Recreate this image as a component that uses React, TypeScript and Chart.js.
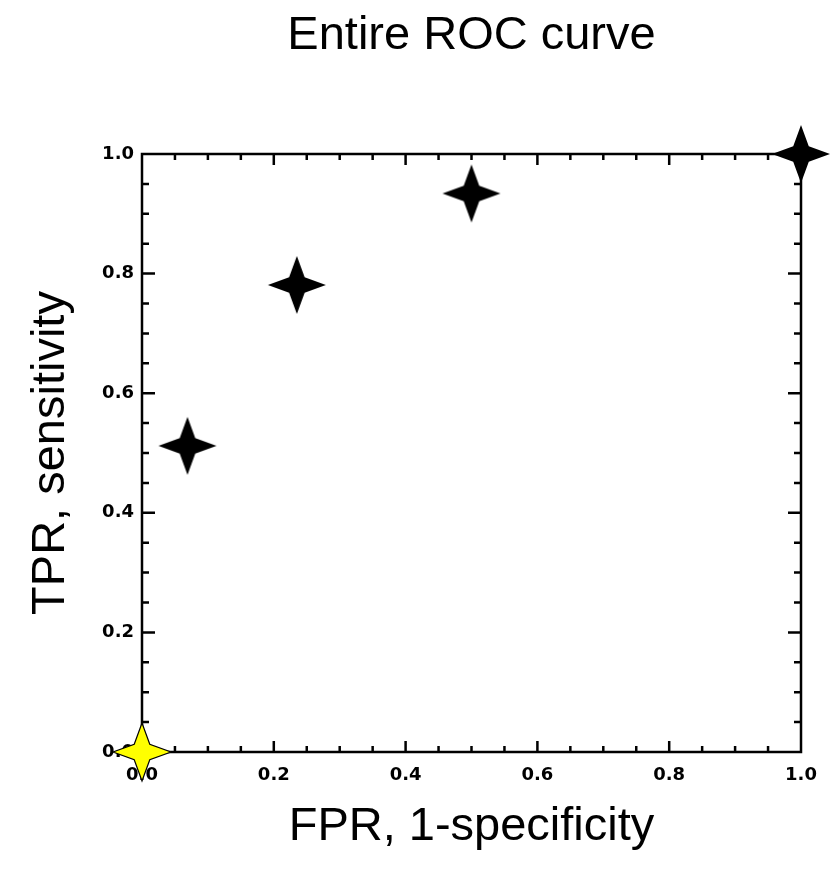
import React, { useEffect, useRef } from "react";
import { Chart, registerables } from "chart.js";

Chart.register(...registerables);

const chartTitle = "Entire ROC curve";
const xAxisTitle = "FPR, 1-specificity";
const yAxisTitle = "TPR, sensitivity";

// ROC points (black stars)
const fpr = [0.069, 0.235, 0.5, 1.0];
const tpr = [0.512, 0.781, 0.934, 1.0];
// Origin point (yellow star)
const originFpr = [0.0];
const originTpr = [0.0];

const axisMin = 0;
const axisMax = 1;
const majorStep = 0.2;
const minorPerMajor = 4;

const CANVAS_W = 823;
const CANVAS_H = 859;

function makeStar(fill: string, stroke: string | null, R: number, r: number) {
  const size = Math.ceil(2 * R + 4);
  const c = document.createElement("canvas");
  c.width = size;
  c.height = size;
  const ctx = c.getContext("2d")!;
  const cx = size / 2;
  const cy = size / 2;
  ctx.beginPath();
  for (let i = 0; i < 8; i++) {
    const ang = -Math.PI / 2 + (i * Math.PI) / 4;
    const rad = i % 2 === 0 ? R : r;
    const px = cx + rad * Math.cos(ang);
    const py = cy + rad * Math.sin(ang);
    if (i === 0) ctx.moveTo(px, py);
    else ctx.lineTo(px, py);
  }
  ctx.closePath();
  ctx.fillStyle = fill;
  ctx.fill();
  if (stroke) {
    ctx.strokeStyle = stroke;
    ctx.lineWidth = 1.2;
    ctx.stroke();
  }
  return c;
}

const framePlugin = {
  id: "idlFrame",
  beforeDatasetsDraw(chart: any) {
    const { ctx, chartArea: a, scales } = chart;
    const xs = scales.x;
    const ys = scales.y;
    ctx.save();
    ctx.strokeStyle = "#000";
    ctx.lineWidth = 2.5;
    ctx.lineCap = "butt";
    const nMinor = Math.round((axisMax - axisMin) / majorStep) * minorPerMajor;
    for (let i = 1; i < nMinor; i++) {
      const v = axisMin + (i * (axisMax - axisMin)) / nMinor;
      const major = i % minorPerMajor === 0;
      const hLen = major ? 11 : 6;
      const vLen = major ? 13 : 7;
      const px = xs.getPixelForValue(v);
      const py = ys.getPixelForValue(v);
      ctx.beginPath();
      ctx.moveTo(px, a.bottom);
      ctx.lineTo(px, a.bottom - hLen);
      ctx.moveTo(px, a.top);
      ctx.lineTo(px, a.top + hLen);
      ctx.moveTo(a.left, py);
      ctx.lineTo(a.left + vLen, py);
      ctx.moveTo(a.right, py);
      ctx.lineTo(a.right - vLen, py);
      ctx.stroke();
    }
    ctx.strokeRect(a.left, a.top, a.right - a.left, a.bottom - a.top);
    ctx.restore();
  },
};

export default function App() {
  const ref = useRef<HTMLCanvasElement | null>(null);

  useEffect(() => {
    if (!ref.current) return;
    const blackStar = makeStar("#000000", null, 29, 11);
    const yellowStar = makeStar("#ffff00", "#000000", 29, 11);
    const tickFont = { family: "'DejaVu Sans', sans-serif", weight: "bold" as const, size: 18 };
    const titleFont = { family: "'Liberation Sans', Arial, sans-serif", weight: "normal" as const, size: 47 };

    const chart = new Chart(ref.current, {
      type: "scatter",
      data: {
        datasets: [
          {
            label: "ROC",
            data: fpr.map((x, i) => ({ x, y: tpr[i] })),
            pointStyle: blackStar as any,
            pointRadius: 29,
            backgroundColor: "#000",
            borderColor: "#000",
            clip: false as any,
          },
          {
            label: "Origin",
            data: originFpr.map((x, i) => ({ x, y: originTpr[i] })),
            pointStyle: yellowStar as any,
            pointRadius: 29,
            backgroundColor: "#ff0",
            borderColor: "#000",
            clip: false as any,
          },
        ],
      },
      options: {
        responsive: false,
        animation: false,
        layout: { padding: { left: 0, right: 30, top: 0, bottom: 0 } },
        plugins: {
          legend: { display: false },
          tooltip: { enabled: false },
          title: {
            display: true,
            text: chartTitle,
            color: "#000",
            font: titleFont,
            fullSize: false,
            padding: { top: 0, bottom: 89.6 },
          },
        },
        scales: {
          x: {
            type: "linear",
            min: axisMin,
            max: axisMax,
            grid: { display: false, drawTicks: false },
            border: { display: false },
            ticks: {
              stepSize: majorStep,
              color: "#000",
              font: tickFont,
              padding: 13,
              callback: (v: any) => Number(v).toFixed(1),
            },
            title: {
              display: true,
              text: xAxisTitle,
              color: "#000",
              font: titleFont,
              padding: { top: 0, bottom: 12 },
            },
            afterFit: (s: any) => {
              s.height = 115;
            },
          },
          y: {
            type: "linear",
            min: axisMin,
            max: axisMax,
            grid: { display: false, drawTicks: false },
            border: { display: false },
            ticks: {
              stepSize: majorStep,
              color: "#000",
              font: tickFont,
              padding: 8,
              callback: (v: any) => Number(v).toFixed(1),
            },
            title: {
              display: true,
              text: yAxisTitle,
              color: "#000",
              font: titleFont,
              padding: { top: 15, bottom: 0 },
            },
            afterFit: (s: any) => {
              s.width = 134;
            },
          },
        },
      },
      plugins: [framePlugin],
    });
    return () => chart.destroy();
  }, []);

  return (
    <div style={{ width: CANVAS_W, height: CANVAS_H }}>
      <canvas ref={ref} width={CANVAS_W} height={CANVAS_H} style={{ display: "block" }} />
    </div>
  );
}
